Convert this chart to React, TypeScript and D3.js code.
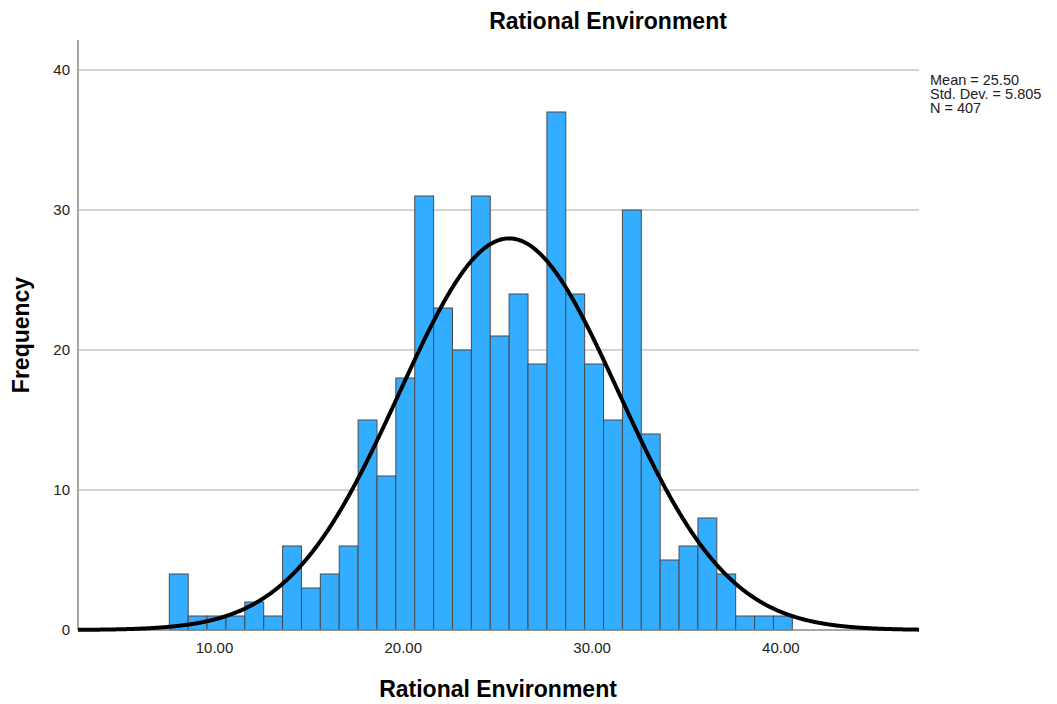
import React from "react";
import * as d3 from "d3";

const binCenters = [8, 9, 10, 11, 12, 13, 14, 15, 16, 17, 18, 19, 20, 21, 22, 23, 24, 25, 26, 27, 28, 29, 30, 31, 32, 33, 34, 35, 36, 37, 38, 39, 40];
const counts = [4, 1, 1, 1, 2, 1, 6, 3, 4, 6, 15, 11, 18, 31, 23, 20, 31, 21, 24, 19, 37, 24, 19, 15, 30, 14, 5, 6, 8, 4, 1, 1, 1];
const xTicks = [10, 20, 30, 40];
const yTicks = [0, 10, 20, 30, 40];
const statLines = ["Mean = 25.50", "Std. Dev. = 5.805", "N = 407"];
const mean = 25.5;
const sd = 5.805;
const n = 407;
const binWidth = 1;

const FONT = "'Liberation Sans', Arial, sans-serif";

export default function App() {
  const W = 1057;
  const H = 704;
  const left = 78;
  const right = 919;
  const top = 40;
  const bottom = 630;

  const x = d3.scaleLinear().domain([2.664, 47.21]).range([left, right]);
  const y = d3.scaleLinear().domain([0, 40]).range([bottom, 70]);

  const curveXs = d3.range(2.664, 47.22, 0.05);
  const normal = (v: number) =>
    (n * binWidth) / (sd * Math.sqrt(2 * Math.PI)) * Math.exp(-0.5 * ((v - mean) / sd) ** 2);
  const line = d3
    .line<number>()
    .x((v) => x(v))
    .y((v) => y(normal(v)))
    .curve(d3.curveBasis);

  return (
    <svg
      width={W}
      height={H}
      style={{ position: "absolute", left: 0, top: 0, background: "#fff" }}
      fontFamily={FONT}
    >
      <rect x={0} y={0} width={W} height={H} fill="#fff" />
      {/* gridlines */}
      {yTicks.filter((t) => t > 0).map((t) => (
        <line key={t} x1={left} x2={right} y1={y(t)} y2={y(t)} stroke="#c6c6c6" strokeWidth={1.5} />
      ))}
      {/* bars */}
      {binCenters.map((c, i) => (
        <rect
          key={c}
          x={x(c - binWidth / 2)}
          y={y(counts[i])}
          width={x(c + binWidth / 2) - x(c - binWidth / 2)}
          height={y(0) - y(counts[i])}
          fill="#33adff"
          stroke="#4a4a4a"
          strokeWidth={1}
        />
      ))}
      {/* axes */}
      <line x1={left} x2={left} y1={top} y2={bottom} stroke="#a6a6a6" strokeWidth={2} />
      <line x1={left} x2={right} y1={bottom} y2={bottom} stroke="#8a8a8a" strokeWidth={1.5} />
      {/* normal curve */}
      <path d={line(curveXs) || ""} fill="none" stroke="#000" strokeWidth={4} />
      {/* y tick labels */}
      {yTicks.map((t) => (
        <text key={t} x={70} y={y(t) + 5} textAnchor="end" fontSize={15} fill="#222">
          {t}
        </text>
      ))}
      {/* x tick labels */}
      {xTicks.map((t) => (
        <text key={t} x={x(t) - 2} y={653} textAnchor="middle" fontSize={15} fill="#222">
          {t.toFixed(2)}
        </text>
      ))}
      {/* titles */}
      <text x={608} y={29} textAnchor="middle" fontSize={23} fontWeight="bold" fill="#000">
        Rational Environment
      </text>
      <text x={498} y={697} textAnchor="middle" fontSize={23} fontWeight="bold" fill="#000">
        Rational Environment
      </text>
      <text
        transform={`translate(29,335) rotate(-90)`}
        textAnchor="middle"
        fontSize={23}
        fontWeight="bold"
        fill="#000"
      >
        Frequency
      </text>
      {/* stats */}
      {statLines.map((s, i) => (
        <text key={s} x={930} y={85 + i * 14} fontSize={14.5} fill="#222">
          {s}
        </text>
      ))}
    </svg>
  );
}
